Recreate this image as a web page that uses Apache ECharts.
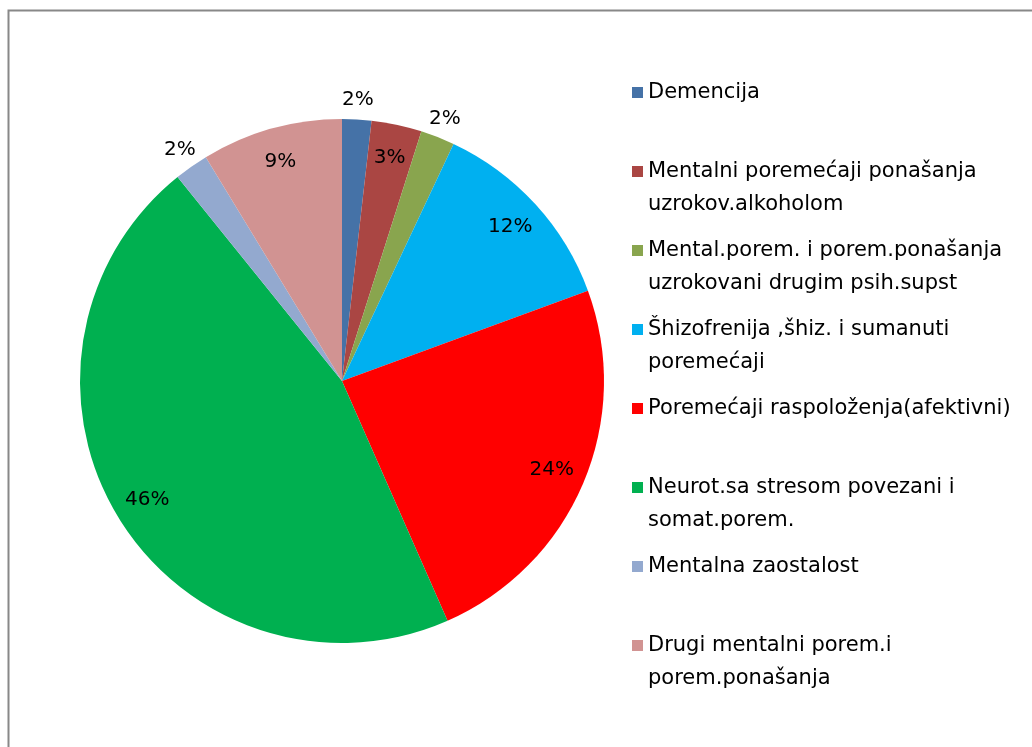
<!DOCTYPE html>
<html>
<head>
<meta charset="utf-8">
<script src="https://cdn.jsdelivr.net/npm/echarts@6/dist/echarts.min.js"></script>
<style>
  html, body { margin: 0; padding: 0; background: #fff; }
  #chart { width: 1032px; height: 747px; }
</style>
</head>
<body>
<div id="chart"></div>
<script>
(function () {

    // categories, in legend order
    var categories = [
        'Demencija',
        'Mentalni poremećaji ponašanja\nuzrokov.alkoholom',
        'Mental.porem. i porem.ponašanja\nuzrokovani drugim psih.supst',
        'Šhizofrenija ,šhiz. i sumanuti\nporemećaji',
        'Poremećaji raspoloženja(afektivni)',
        'Neurot.sa stresom povezani i\nsomat.porem.',
        'Mentalna zaostalost',
        'Drugi mentalni porem.i\nporem.ponašanja'
    ];
    // share of each category (%)
    var values = [1.8, 3.1, 2.1, 12.4, 24.0, 45.8, 2.1, 8.7];
    var colors = ['#4572a7', '#aa4643', '#89a54e', '#00b0f0', '#ff0000', '#00b050', '#93a9cf', '#d19392'];
    // which labels Excel put outside the pie
    var outsideLabel = [true, false, true, false, false, false, true, false];

    var font = 'DejaVu Sans';
    var cx = 342, cy = 381, r = 262;

    function pieData(useLabel) {
        return categories.map(function (name, i) {
            return {
                name: name,
                value: values[i],
                label: { show: useLabel(i) }
            };
        });
    }

    var labelStyle = {
        position: 'inside',
        formatter: '{d}%',
        color: '#000',
        fontFamily: font,
        fontSize: 20
    };

    var chart = echarts.init(document.getElementById('chart'));

    var option = {
        animation: false,
        color: colors,
        graphic: [{
            type: 'rect',
            silent: true,
            shape: { x: 8.5, y: 10.5, width: 1200, height: 900 },
            style: { fill: 'none', stroke: '#888', lineWidth: 2 }
        }],
        legend: {
            orient: 'vertical',
            left: 632,
            top: 43,
            padding: 0,
            itemWidth: 11,
            itemHeight: 11,
            itemGap: -20,
            icon: 'rect',
            selectedMode: false,
            data: categories,
            formatter: function (name) {
                // blank first line keeps the square beside the first text line
                return '\n' + name + (name.indexOf('\n') < 0 ? '\n' : '');
            },
            textStyle: {
                fontFamily: font,
                fontSize: 21,
                lineHeight: 33,
                color: '#000'
            }
        },
        series: [
            {
                type: 'pie',
                center: [cx, cy],
                radius: [0, r],
                startAngle: 90,
                clockwise: true,
                silent: true,
                label: { show: false },
                labelLine: { show: false },
                data: pieData(function () { return false; })
            },
            {
                // transparent ring that carries the labels inside the pie
                type: 'pie',
                center: [cx, cy],
                radius: [r - 74, r],
                startAngle: 90,
                silent: true,
                percentPrecision: 0,
                itemStyle: { color: 'rgba(0,0,0,0)' },
                label: labelStyle,
                labelLine: { show: false },
                data: pieData(function (i) { return !outsideLabel[i]; })
            },
            {
                // transparent ring that carries the labels outside the pie
                type: 'pie',
                center: [cx, cy],
                radius: [r, r + 34],
                startAngle: 90,
                silent: true,
                percentPrecision: 0,
                itemStyle: { color: 'rgba(0,0,0,0)' },
                label: labelStyle,
                labelLine: { show: false },
                data: pieData(function (i) { return outsideLabel[i]; })
            }
        ]
    };

    chart.setOption(option);
})();
</script>
</body>
</html>
